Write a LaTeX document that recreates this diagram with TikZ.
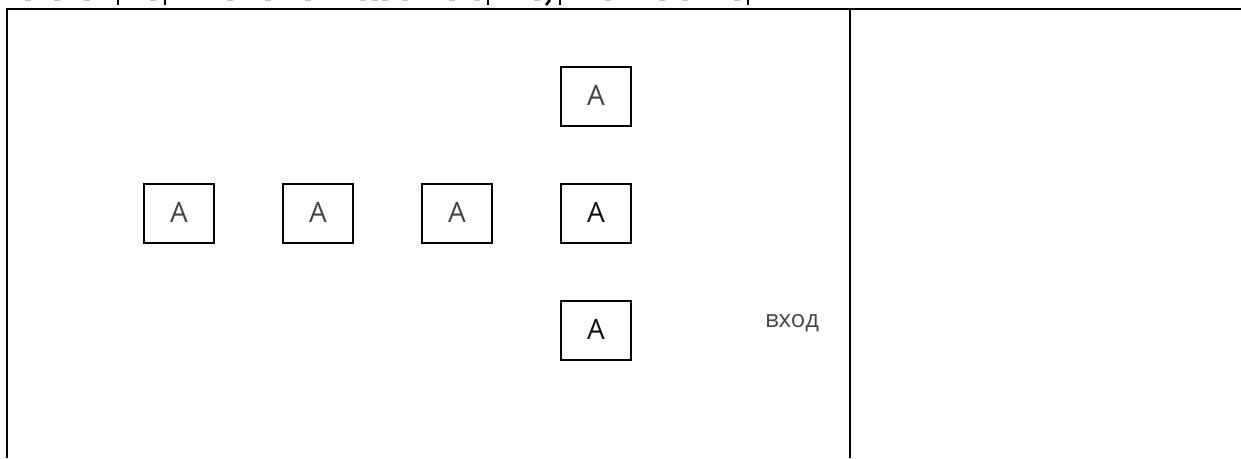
\documentclass[tikz,border=0pt]{standalone}
\usepackage{fontspec}
\setmainfont{Open Sans}
\definecolor{softink}{HTML}{444444}
\definecolor{softinkb}{HTML}{111111}
\tikzset{
  x=1pt,y=-1pt,
  frameline/.style={line width=2.5pt,black,line cap=butt},
  letterbox/.style={draw=black,line width=2.5pt,fill=white,minimum width=70pt,minimum height=59pt,inner sep=0pt,font=\fontsize{28}{30}\selectfont},
  softbox/.style={letterbox,text=softink},
  hardbox/.style={letterbox,text=softinkb},
  inlabel/.style={inner sep=0pt,text=softink,font=\fontsize{24}{26}\selectfont},
  stubmark/.style={line width=2.6pt,black},
  speck/.style={line width=0.9pt,gray!50}
}
\newcommand{\boxletter}{\raisebox{1.5pt}{A}}
\begin{document}
\begin{tikzpicture}
\useasboundingbox (0,0) rectangle (1241,458);
\coordinate (tl) at (7,9);
\coordinate (bl) at (7,458);
\coordinate (tr) at (1241,9);
\coordinate (mt) at (850,9);
\coordinate (mb) at (850,458);
\draw[frameline] (bl) -- ([yshift=1.25pt]tl);
\draw[frameline] (tl) -- (tr);
\draw[frameline] (mt) -- (mb);
\foreach \sx in {28,57,87,153,230,268,308,363,375,385,405,452,477,537,608,662,685,737}
  \draw[speck] (\sx-3,0.4) -- (\sx+3,0.4);
\foreach \sx in {118,165,488,560,748}
  \draw[stubmark] (\sx,0) -- (\sx,5);
\draw[stubmark] (550,0) -- (546,5);
\node[softbox] (a1) at (179,213.5) {\boxletter};
\node[softbox] (a2) at (318,213.5) {\boxletter};
\node[softbox] (a3) at (457,213.5) {\boxletter};
\node[softbox] (a4) at (596,96.5) {\boxletter};
\node[hardbox] (a5) at (596,213.5) {\boxletter};
\node[hardbox] (a6) at (596,330.5) {\boxletter};
\node[inlabel] (vx) at (792,323) {вход};
\end{tikzpicture}
\end{document}
